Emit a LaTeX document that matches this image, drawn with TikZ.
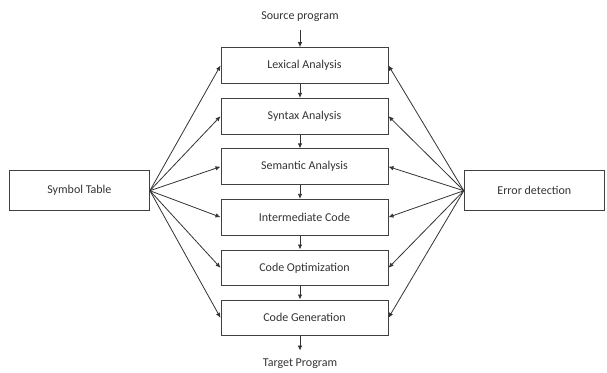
\documentclass[tikz,border=0pt]{standalone}
\usepackage{fontspec}
\setmainfont{Carlito}
\usetikzlibrary{arrows.meta}

\begin{document}
\begin{tikzpicture}[x=1pt, y=-1pt,
    stage/.style={draw=black!75, line width=1pt, minimum width=167pt,
                  minimum height=35.6pt, inner sep=0pt, text=black!80,
                  font=\fontsize{12}{14}\selectfont},
    side/.style={stage, minimum width=140pt, minimum height=40pt},
    label/.style={text=black!80, font=\fontsize{12}{14}\selectfont},
    arr/.style={-{Latex[length=5pt,width=4.5pt]}, black!80, line width=0.8pt},
]
    \useasboundingbox (0,0) rectangle (607,372);

    \node[label] (src) at (300,17) {Source program};
    \node[label] (tgt) at (300,364) {Target Program};

    \node[stage] (s1) at (304.5,65.5)  {Lexical Analysis};
    \node[stage] (s2) at (304.5,116.2) {Syntax Analysis};
    \node[stage] (s3) at (304.5,166.7) {Semantic Analysis};
    \node[stage] (s4) at (304.5,217.2) {Intermediate Code};
    \node[stage] (s5) at (304.5,267.8) {Code Optimization};
    \node[stage] (s6) at (304.5,317.8) {Code Generation};

    \node[side] (sym) at (79.4,190.7)  {Symbol Table};
    \node[side] (err) at (534.3,190.7) {Error detection};

    \draw[arr] ([yshift=-5pt]src.south) -- (src.south |- s1.north);
    \foreach \a/\b in {s1/s2, s2/s3, s3/s4, s4/s5, s5/s6}
        \draw[arr] ([xshift=-4.5pt]\a.south) -- ([xshift=-4.5pt]\b.north);
    \draw[arr] (tgt.north |- s6.south) -- ([yshift=5pt]tgt.north);

    \foreach \s in {s1,s2,s3,s4,s5,s6} {
        \draw[arr] (sym.east) -- (\s.west);
        \draw[arr] (err.west) -- (\s.east);
    }
\end{tikzpicture}
\end{document}
